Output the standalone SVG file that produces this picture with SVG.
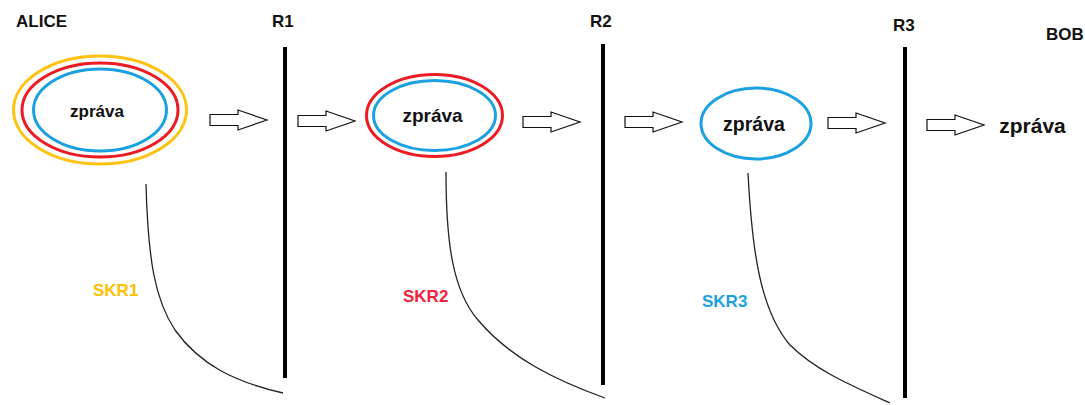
<svg xmlns="http://www.w3.org/2000/svg" width="1085" height="405" viewBox="0 0 1085 405">
  <style>
    text { font-family: "Liberation Sans", Arial, sans-serif; font-weight: bold; }
    .lbl { font-size: 17px; fill: #111; }
    .msg { fill: #111; text-anchor: middle; }
    .ring { fill: none; stroke-width: 3; }
    .yel { stroke: #FFC20E; }
    .red { stroke: #ED1C24; }
    .blu { stroke: #1BA1E2; }
    .wall { stroke: #000; stroke-width: 4; }
    .key { fill: none; stroke: #222; stroke-width: 1.3; }
    .arrow { fill: #fff; stroke: #111; stroke-width: 1.2; stroke-linejoin: miter; }
  </style>
  <defs>
    <!-- hollow block arrow, tip at (57,0) -->
    <path id="blockArrow" class="arrow" d="M0,-5.5 H28 V-10 L57,0 L28,10 V5.5 H0 Z"/>
  </defs>

  <rect width="1085" height="405" fill="#fff"/>

  <!-- party / relay labels -->
  <g id="alice"><text class="lbl" x="16" y="27">ALICE</text></g>
  <g id="r1">
    <text class="lbl" x="272" y="27">R1</text>
    <line class="wall" x1="285" y1="47" x2="285" y2="378"/>
  </g>
  <g id="r2">
    <text class="lbl" x="590" y="27">R2</text>
    <line class="wall" x1="603" y1="44" x2="603" y2="385"/>
  </g>
  <g id="r3">
    <text class="lbl" x="893" y="31">R3</text>
    <line class="wall" x1="905" y1="47" x2="905" y2="398"/>
  </g>
  <g id="bob"><text class="lbl" x="1046" y="40">BOB</text></g>

  <!-- message wrapped in three layers -->
  <g id="msg1">
    <ellipse class="ring yel" cx="100" cy="110" rx="86.5" ry="54"/>
    <ellipse class="ring red" cx="100" cy="110" rx="78" ry="47"/>
    <ellipse class="ring blu" cx="100" cy="110" rx="66.5" ry="41"/>
    <text class="msg" x="97" y="117" font-size="17">zpráva</text>
  </g>

  <!-- message with two layers -->
  <g id="msg2">
    <ellipse class="ring red" cx="434.5" cy="115.5" rx="68" ry="41"/>
    <ellipse class="ring blu" cx="434.5" cy="115.5" rx="61" ry="35"/>
    <text class="msg" x="432.5" y="122" font-size="19">zpráva</text>
  </g>

  <!-- message with one layer -->
  <g id="msg3">
    <ellipse class="ring blu" cx="756" cy="123.5" rx="55" ry="35.5"/>
    <text class="msg" x="754" y="131" font-size="19.5">zpráva</text>
  </g>

  <!-- plain message -->
  <g id="msg4">
    <text class="msg" x="1032.5" y="133" font-size="21">zpráva</text>
  </g>

  <!-- layer keys -->
  <g id="keys">
    <text x="93" y="296" font-size="17" fill="#FFC000">SKR1</text>
    <text x="403" y="302" font-size="17" fill="#F5203A">SKR2</text>
    <text x="702" y="307" font-size="17" fill="#1BA1E2">SKR3</text>
  </g>

  <g id="connectors">
    <use href="#blockArrow" transform="translate(210,120)"/>
    <use href="#blockArrow" transform="translate(298,121)"/>
    <use href="#blockArrow" transform="translate(523,122)"/>
    <use href="#blockArrow" transform="translate(625,122)"/>
    <use href="#blockArrow" transform="translate(828,123)"/>
    <use href="#blockArrow" transform="translate(927,125)"/>
    <path class="key" d="M146,184 C148,260 155,300 175,330 C200,365 235,382 283,393"/>
    <path class="key" d="M446,172 C446,240 452,290 478,320 C510,358 555,380 605,398"/>
    <path class="key" d="M748,173 C752,250 760,310 790,345 C815,370 850,385 890,403"/>
  </g>
</svg>
